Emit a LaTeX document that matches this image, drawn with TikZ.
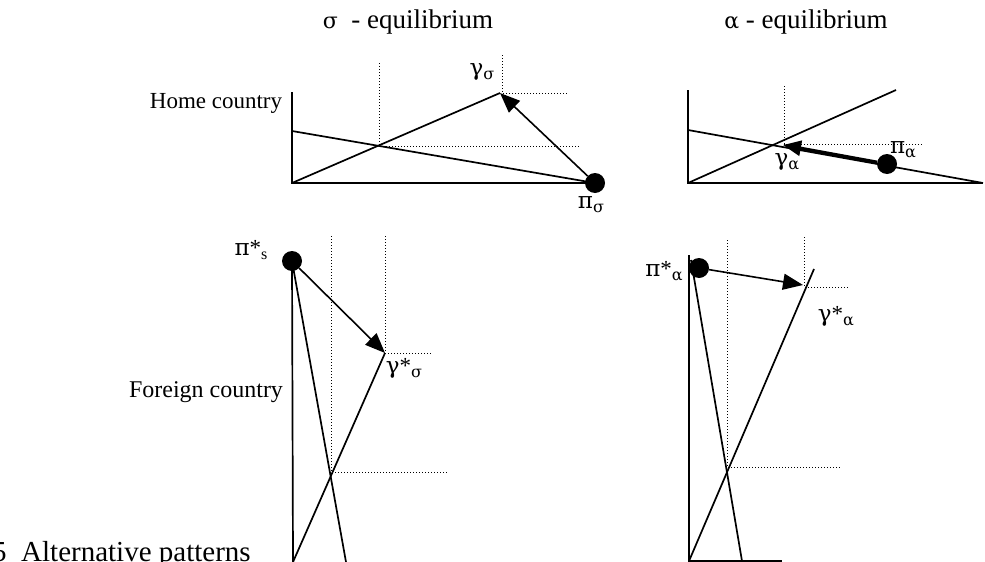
\documentclass[tikz,border=0pt]{standalone}
\usepackage{fontspec}
\setmainfont{Liberation Serif}
\newfontfamily\grk{DejaVu Serif}
\usetikzlibrary{arrows.meta}
\newcommand{\gk}[1]{{\grk #1}}
\newcommand{\tgk}[1]{{\grk\fontsize{22}{26}\selectfont #1}}
\newcommand{\sbx}[1]{\raisebox{-0.4ex}{\fontsize{16}{18}\selectfont #1}}
\begin{document}
\begin{tikzpicture}[x=1pt,y=-1pt,
  ax/.style={line width=1.7pt},
  dotl/.style={line width=1pt, dash pattern=on 1.2pt off 1.8pt},
  arr/.style={line width=1.6pt,-{Triangle[length=20pt,width=16pt]}},
  thickarr/.style={line width=3.2pt,-{Triangle[length=18pt,width=15pt]}},
  bigdot/.style={circle,fill=black,inner sep=0pt,minimum size=20pt},
  lab/.style={font=\fontsize{23}{27}\selectfont, inner sep=0pt},
  ttl/.style={font=\fontsize{27}{31}\selectfont, inner sep=0pt},
  glab/.style={font=\fontsize{23}{27}\selectfont, inner sep=0pt}]
\useasboundingbox (0,0) rectangle (985,562);

% titles and side labels
\node[ttl] (t1) at (408,22) {\tgk{σ}\ \ - equilibrium};
\node[ttl] (t2) at (806,22) {\tgk{α} - equilibrium};
\node[lab] (home) at (216,103) {Home country};
\node[lab,font=\fontsize{24}{28}\selectfont] (foreign) at (206,392) {Foreign country};
\node[lab,anchor=base west,font=\fontsize{29}{33}\selectfont] (cap) at (-8,561) {5\ \ Alternative patterns};

% ---------- Home, sigma ----------
\coordinate (hsO) at (292,183);
\coordinate (hsT) at (292,92);
\coordinate (hsE) at (595,183);
\coordinate (hsA) at (292,131);
\coordinate (hsG) at (500,93);
\coordinate (hsX) at (379,146);
\draw[ax] (hsT) -- (hsO) -- (hsE);
\draw[ax] (hsA) -- (hsE);
\draw[ax] (hsO) -- (hsG);
\draw[dotl] (379,63) -- (hsX) -- (580,146);
\draw[dotl] (502,55) -- (502,93) -- (568,93);
\node[bigdot] (ps) at (hsE) {};
\draw[arr] (ps) -- (hsG);
\node[glab] (lgs) at (482,72) {\gk{γ}\sbx{\gk{σ}}};
\node[glab] (lps) at (591,205) {\gk{π}\sbx{\gk{σ}}};

% ---------- Home, alpha ----------
\coordinate (haO) at (688,183);
\coordinate (haT) at (688,90);
\coordinate (haE) at (983,183);
\coordinate (haA) at (688,130);
\coordinate (haU) at (896,90);
\coordinate (haX) at (783,145);
\draw[ax] (haT) -- (haO) -- (haE);
\draw[ax] (haA) -- (haE);
\draw[ax] (haO) -- (haU);
\draw[dotl] (784,86) -- (784,144) -- (922,144);
\node[bigdot] (pa) at (887,164) {};
\draw[thickarr] (pa) -- (haX);
\node[glab] (lga) at (787,162) {\gk{γ}\sbx{\gk{α}}};
\node[glab] (lpa) at (903,150) {\gk{π}\sbx{\gk{α}}};

% ---------- Foreign, sigma ----------
\node[bigdot] (fs) at (292,261) {};
\coordinate (fsB) at (293,562);
\coordinate (fsS) at (346,562);
\coordinate (fsG) at (385,353);
\coordinate (fsX) at (331,472);
\draw[ax] (fs.center) -- (fsB);
\draw[ax] (fs.center) -- (fsS);
\draw[ax] (fsB) -- (fsG);
\draw[dotl] (331,236) -- (fsX) -- (447,472);
\draw[dotl] (385,236) -- (385,353) -- (432,353);
\draw[arr] (fs) -- (fsG);
\node[glab] (lfps) at (251,250) {\gk{π}*\sbx{s}};
\node[glab] (lfgs) at (404,368) {\gk{γ}*\sbx{\gk{σ}}};

% ---------- Foreign, alpha ----------
\coordinate (faT) at (689,255);
\coordinate (faO) at (689,561);
\coordinate (faE) at (782,561);
\coordinate (faS0) at (691,260);
\coordinate (faS) at (742,561);
\coordinate (faU) at (814,269);
\coordinate (faG) at (803,285);
\coordinate (faX) at (727,467);
\draw[ax] (faT) -- (faO) -- (faE);
\draw[ax] (faS0) -- (faS);
\draw[ax] (faO) -- (faU);
\draw[dotl] (727,240) -- (faX) -- (840,467);
\draw[dotl] (804,237) -- (804,287) -- (848,287);
\node[bigdot] (fa) at (699,268) {};
\draw[arr] (fa) -- (faG);
\node[glab] (lfpa) at (664,271) {\gk{π}*\sbx{\gk{α}}};
\node[glab] (lfga) at (836,316) {\gk{γ}*\sbx{\gk{α}}};
\end{tikzpicture}
\end{document}
